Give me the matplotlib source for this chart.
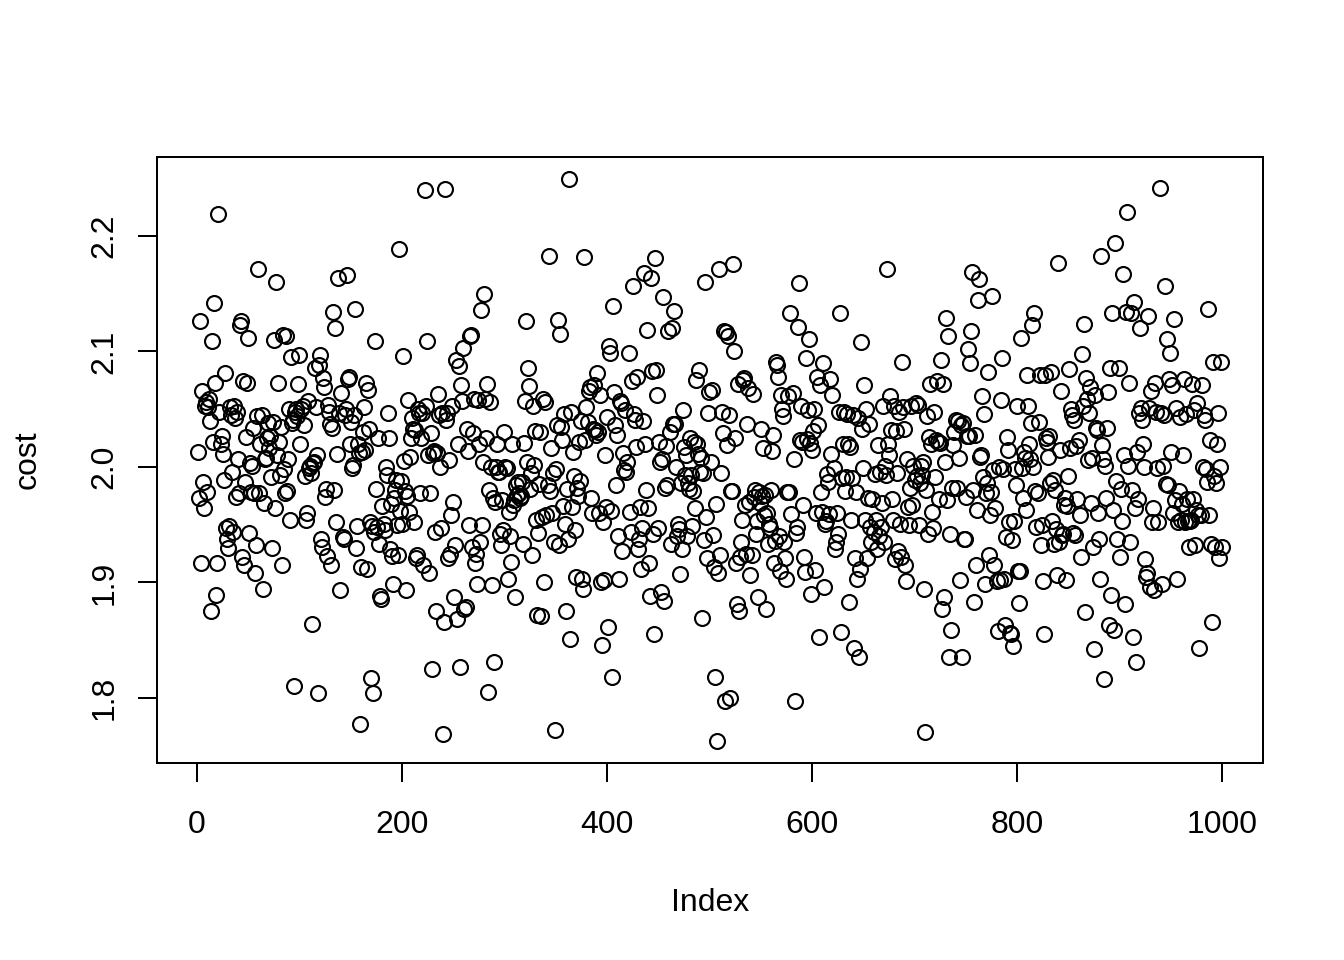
import matplotlib
matplotlib.use("Agg")
import matplotlib.pyplot as plt
import numpy as np

# cost values, in thousandths, in index order (1..1000)
cost_milli = [
    2013, 1973, 2126, 1917, 2066, 1987, 1964, 2053, 2056, 1978,
    2052, 2059, 2040, 1875, 2109, 2022, 2142, 2073, 1889, 1917,
    2219, 2048, 2020, 2027, 2011, 1989, 2081, 1947, 1938, 1930,
    1949, 2052, 2045, 1996, 1944, 2053, 2042, 1974, 2048, 2007,
    1977, 2123, 2126, 1922, 2074, 1915, 1987, 2026, 2073, 2112,
    1943, 2003, 1978, 2001, 2034, 1977, 1908, 1932, 2044, 2171,
    1977, 2020, 2045, 1894, 1969, 2007, 2008, 2025, 2038, 2016,
    2027, 1991, 1930, 2039, 2110, 1964, 2160, 2010, 2073, 2022,
    1993, 2035, 1915, 2114, 1998, 1977, 2113, 1979, 2007, 2050,
    1954, 2095, 2038, 2041, 1810, 2048, 2050, 2044, 2072, 2097,
    2020, 2050, 2053, 2036, 1992, 1954, 1960, 2057, 1999, 2001,
    1995, 1864, 2003, 2004, 2086, 2052, 2010, 1804, 2088, 2097,
    1938, 1931, 2077, 2069, 1974, 1981, 1923, 2054, 2048, 2037,
    1915, 2034, 2134, 1980, 2120, 1952, 2011, 2164, 2047, 1893,
    2064, 1939, 1938, 2045, 2050, 2166, 2076, 2078, 2020, 2039,
    1999, 2002, 2045, 2137, 1930, 1949, 2020, 2012, 1777, 1913,
    2013, 2030, 2052, 2015, 2073, 1912, 2067, 2033, 1952, 1817,
    1949, 1804, 1944, 2109, 1981, 1948, 2025, 1933, 1888, 1886,
    1966, 1951, 1945, 2000, 1993, 2047, 2025, 1929, 1968, 1923,
    1899, 1973, 1980, 1989, 1950, 1924, 2189, 1962, 1988, 1951,
    2096, 2005, 1979, 1893, 1975, 2058, 1961, 2009, 2025, 2042,
    2033, 1952, 2032, 1921, 1924, 2050, 2047, 1977, 2025, 2047,
    1915, 2240, 2053, 2109, 2010, 1908, 1977, 2029, 1825, 2012,
    2014, 1944, 1875, 2012, 2063, 2045, 2000, 1947, 2047, 1769,
    1866, 2241, 2041, 2047, 1921, 2006, 1925, 1958, 2053, 1970,
    1887, 1932, 2093, 1868, 2020, 2087, 1827, 2071, 2057, 2103,
    1877, 1879, 2033, 2014, 1950, 2113, 2114, 1931, 2029, 2059,
    1917, 1925, 1899, 2058, 2020, 1935, 2136, 1950, 2004, 2150,
    2059, 2025, 2072, 1805, 1980, 2056, 2000, 1898, 1973, 1831,
    1970, 2000, 2020, 1996, 1996, 1942, 1932, 1971, 1945, 2030,
    2000, 1999, 1903, 1961, 1940, 1918, 2020, 1967, 1971, 1887,
    1984, 1976, 1987, 1977, 1973, 1975, 1987, 1933, 2021, 2057,
    2126, 2004, 2086, 2070, 1981, 1995, 1924, 2053, 2002, 2031,
    1954, 1872, 1943, 1985, 2030, 1871, 1957, 2059, 1900, 2056,
    1958, 1984, 2183, 1979, 2016, 1960, 1995, 1935, 1772, 1998,
    2036, 2127, 1932, 2115, 2035, 2023, 1966, 2046, 1951, 1875,
    1981, 1938, 2249, 1851, 2048, 1965, 2013, 1992, 1945, 1905,
    1982, 1975, 2022, 1988, 2040, 1903, 1894, 2182, 2023, 2052,
    2039, 2066, 2069, 1973, 1960, 2033, 2071, 2032, 2028, 2081,
    2030, 1960, 2062, 1900, 1846, 1952, 1902, 2010, 1965, 2043,
    1861, 2105, 2099, 1962, 1818, 2139, 2065, 2036, 1984, 2028,
    1940, 1903, 2057, 2055, 1927, 2012, 1997, 2049, 1996, 2004,
    2099, 1961, 1944, 2074, 2157, 2046, 2041, 2017, 2078, 1929,
    1938, 1965, 1912, 1947, 2040, 2168, 2020, 1980, 2119, 1964,
    1917, 1888, 2164, 2083, 1942, 1855, 2181, 2084, 2062, 1947,
    2022, 2004, 1892, 2007, 2147, 1884, 1982, 2018, 1984, 2118,
    2030, 1933, 2120, 2037, 2135, 2037, 2000, 1940, 1951, 1946,
    1907, 1986, 1929, 2049, 2017, 1993, 2010, 1940, 1986, 1981,
    2025, 1993, 1949, 1979, 2022, 1964, 2075, 2020, 2011, 2084,
    1996, 2008, 1869, 1995, 1937, 2160, 1957, 1921, 2047, 2065,
    2004, 2067, 1941, 1913, 1818, 1968, 1763, 1908, 2171, 1924,
    1995, 2048, 2029, 2118, 1797, 2117, 2019, 2113, 2045, 1800,
    1979, 1979, 2176, 2100, 2025, 1917, 1881, 2072, 1875, 1922,
    1935, 1954, 2075, 2077, 1967, 1925, 2037, 2068, 1970, 1906,
    1924, 2063, 1974, 1980, 1942, 1953, 1887, 1978, 1969, 2033,
    1975, 2016, 1958, 1976, 1877, 1960, 1933, 1951, 1947, 1980,
    2014, 2028, 1917, 1936, 2091, 2088, 2078, 1940, 1910, 2062,
    2050, 2044, 1935, 1921, 1903, 1978, 2061, 1978, 2133, 1959,
    2064, 2007, 1797, 1943, 1948, 2121, 2159, 2023, 2053, 2022,
    1967, 1922, 1909, 2094, 2024, 2049, 2111, 2021, 1890, 2015,
    2031, 2050, 1911, 1960, 2078, 2036, 1853, 2071, 1978, 1961,
    2090, 1896, 1951, 1953, 1994, 1987, 1959, 2076, 2011, 2062,
    1999, 1929, 1935, 1960, 1942, 2048, 2133, 1857, 1990, 2020,
    2048, 1979, 1991, 2046, 2020, 1883, 2017, 1954, 1990, 2045,
    1843, 1921, 1978, 1903, 2042, 1835, 1912, 2108, 2033, 1999,
    2071, 1954, 2050, 1921, 1973, 2037, 1948, 1935, 1972, 1944,
    1994, 1954, 1929, 2019, 1940, 1996, 1948, 1969, 2053, 1935,
    2001, 1993, 2171, 2020, 2010, 2061, 2032, 1972, 1954, 2053,
    1920, 2031, 1995, 1927, 2048, 1951, 1922, 2091, 2052, 2033,
    1915, 1901, 2007, 1965, 1950, 1982, 2053, 1967, 2001, 1989,
    2055, 1992, 2054, 1950, 1986, 2001, 1993, 2004, 1894, 1770,
    1980, 2044, 1942, 2026, 2072, 2020, 1961, 1947, 2048, 1991,
    2023, 2074, 2022, 1972, 2021, 2093, 1877, 2072, 1887, 2004,
    2129, 1971, 2113, 1835, 1942, 1859, 1982, 2019, 2030, 2041,
    1982, 2040, 2008, 1902, 2036, 1835, 2038, 1938, 1938, 1974,
    2027, 2102, 2027, 2090, 2118, 2169, 1980, 1883, 2028, 1915,
    1963, 2145, 2163, 2009, 2010, 2061, 1991, 2046, 1899, 1977,
    1986, 2082, 1924, 1958, 1978, 2148, 1997, 1915, 1964, 1901,
    1858, 2000, 1902, 2058, 2094, 1998, 1903, 1863, 1939, 2026,
    2015, 1952, 1856, 1855, 1937, 1845, 1953, 1998, 1984, 2053,
    1910, 1882, 1910, 2112, 1999, 1973, 2013, 2008, 1963, 2080,
    2053, 2020, 2007, 2038, 2123, 2000, 2133, 1979, 1948, 1977,
    2039, 2080, 1932, 1950, 1901, 1855, 2080, 2025, 2022, 2009,
    2027, 1986, 2082, 1953, 1989, 1933, 1980, 1946, 1906, 2177,
    1935, 2015, 2066, 1941, 1942, 1967, 1973, 1902, 1966, 1992,
    2085, 2016, 2050, 2045, 1943, 2041, 1941, 2018, 1972, 2023,
    1958, 1922, 2098, 2053, 2124, 1874, 2077, 2059, 2006, 2047,
    2069, 1969, 2008, 1931, 1842, 2062, 2034, 2032, 1960, 1938,
    1903, 2183, 2019, 2007, 1816, 2001, 1973, 2034, 2065, 1863,
    2086, 1889, 2133, 1963, 1859, 2194, 1988, 1938, 2086, 1922,
    1981, 1953, 2167, 2010, 1881, 2134, 2221, 2001, 2073, 1935,
    2133, 1980, 1853, 2143, 1964, 1831, 2013, 1972, 2047, 2120,
    2051, 2041, 2020, 2000, 1920, 1905, 1908, 2131, 2051, 1896,
    2066, 1952, 1964, 1893, 2073, 2048, 1999, 1952, 2242, 2047,
    1899, 2001, 2045, 2157, 1985, 2111, 1984, 2076, 2099, 2013,
    2071, 1960, 2128, 1971, 2051, 1903, 1952, 1979, 2043, 1954,
    1968, 2010, 2076, 1952, 2046, 1972, 1953,
    1931, 1953, 1954, 2072, 1972, 2049, 1932, 1963, 2055, 1958,
    1843, 1958, 2071, 2000, 2045, 2041, 1998, 1987, 2137, 1958,
    2023, 1933, 1866, 2091, 1992, 1931, 1986, 2020, 2047, 1921,
    2000, 2091, 1931,
]
cost = np.array(cost_milli) / 1000.0
index = np.arange(1, len(cost) + 1)

x_ticks = [0, 200, 400, 600, 800, 1000]
y_ticks = [1.8, 1.9, 2.0, 2.1, 2.2]
y_ticklabels = ["1.8", "1.9", "2.0", "2.1", "2.2"]

plt.rcParams['font.family'] = ['Liberation Sans', 'DejaVu Sans']

fig = plt.figure(figsize=(7, 5), dpi=192)
ax = fig.add_axes([157 / 1344, 1 - 763 / 960, (1263 - 157) / 1344, (763 - 157) / 960])

ax.plot(index, cost, "o", mfc="none", mec="black", ms=5.6, mew=0.8)

# R style 4% padding around the data range
n = len(cost)
ax.set_xlim(1 - 0.04 * (n - 1), n + 0.04 * (n - 1))
r = cost.max() - cost.min()
ax.set_ylim(cost.min() - 0.04 * r, cost.max() + 0.04 * r)

ax.set_xticks(x_ticks)
ax.set_yticks(y_ticks)
ax.set_yticklabels(y_ticklabels, rotation=90, va="center")
ax.tick_params(length=7.2, width=0.75, labelsize=12, direction="out")
ax.tick_params(axis="x", pad=10.5)
ax.tick_params(axis="y", pad=7)
for s in ax.spines.values():
    s.set_linewidth(0.75)

ax.set_xlabel("Index", fontsize=12, labelpad=18)
ax.set_ylabel("cost", fontsize=12, labelpad=17.5)

fig.savefig("out.png", dpi=192, facecolor="white")
